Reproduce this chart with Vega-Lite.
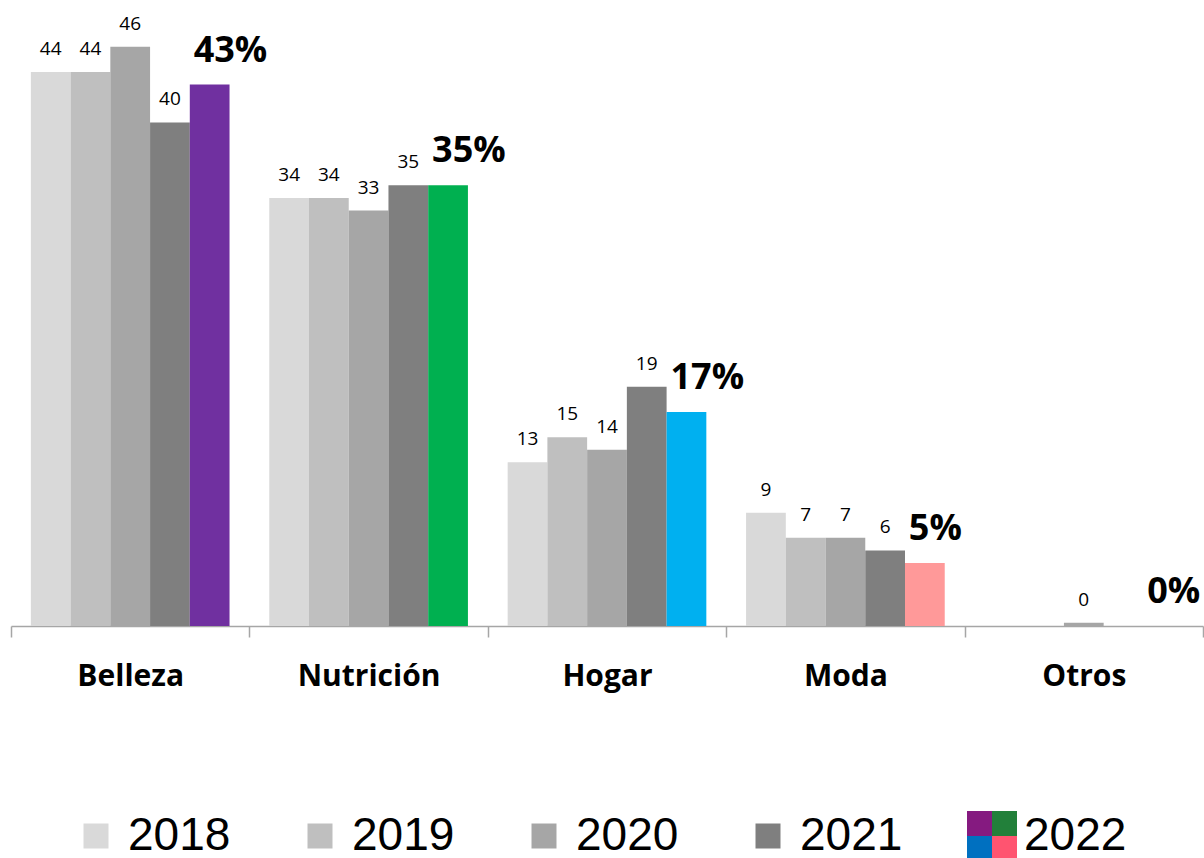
{
  "$schema": "https://vega.github.io/schema/vega-lite/v6.json",
  "padding": {"left": 10, "top": 0, "right": 0, "bottom": 0},
  "background": "white",
  "spacing": 120,
  "config": {"view": {"stroke": null}, "font": "Open Sans"},
  "resolve": {"scale": {"x": "independent", "y": "independent", "color": "independent", "xOffset": "independent", "yOffset": "independent"}},
  "datasets": {
    "ventas": [
      {"cat": "Belleza", "year": "2018", "value": 44, "series": "2018", "label": "44"},
      {"cat": "Belleza", "year": "2019", "value": 44, "series": "2019", "label": "44"},
      {"cat": "Belleza", "year": "2020", "value": 46, "series": "2020", "label": "46"},
      {"cat": "Belleza", "year": "2021", "value": 40, "series": "2021", "label": "40"},
      {"cat": "Belleza", "year": "2022", "value": 43, "series": "Belleza 2022", "label": "43%"},
      {"cat": "Nutrición", "year": "2018", "value": 34, "series": "2018", "label": "34"},
      {"cat": "Nutrición", "year": "2019", "value": 34, "series": "2019", "label": "34"},
      {"cat": "Nutrición", "year": "2020", "value": 33, "series": "2020", "label": "33"},
      {"cat": "Nutrición", "year": "2021", "value": 35, "series": "2021", "label": "35"},
      {"cat": "Nutrición", "year": "2022", "value": 35, "series": "Nutrición 2022", "label": "35%"},
      {"cat": "Hogar", "year": "2018", "value": 13, "series": "2018", "label": "13"},
      {"cat": "Hogar", "year": "2019", "value": 15, "series": "2019", "label": "15"},
      {"cat": "Hogar", "year": "2020", "value": 14, "series": "2020", "label": "14"},
      {"cat": "Hogar", "year": "2021", "value": 19, "series": "2021", "label": "19"},
      {"cat": "Hogar", "year": "2022", "value": 17, "series": "Hogar 2022", "label": "17%"},
      {"cat": "Moda", "year": "2018", "value": 9, "series": "2018", "label": "9"},
      {"cat": "Moda", "year": "2019", "value": 7, "series": "2019", "label": "7"},
      {"cat": "Moda", "year": "2020", "value": 7, "series": "2020", "label": "7"},
      {"cat": "Moda", "year": "2021", "value": 6, "series": "2021", "label": "6"},
      {"cat": "Moda", "year": "2022", "value": 5, "series": "Moda 2022", "label": "5%"},
      {"cat": "Otros", "year": "2020", "value": 0.25, "series": "2020", "label": "0"},
      {"cat": "Otros", "year": "2022", "value": 0, "series": "Otros 2022", "label": "0%"}
    ],
    "leyenda": [
      {"year": "2018"}, {"year": "2019"}, {"year": "2020"}, {"year": "2021"}, {"year": "2022"}
    ],
    "muestras": [
      {"year": "2018", "qx": "C", "qy": "C", "swatch": "2018"},
      {"year": "2019", "qx": "C", "qy": "C", "swatch": "2019"},
      {"year": "2020", "qx": "C", "qy": "C", "swatch": "2020"},
      {"year": "2021", "qx": "C", "qy": "C", "swatch": "2021"},
      {"year": "2022", "qx": "L", "qy": "T", "swatch": "2022 morado"},
      {"year": "2022", "qx": "R", "qy": "T", "swatch": "2022 verde"},
      {"year": "2022", "qx": "L", "qy": "B", "swatch": "2022 azul"},
      {"year": "2022", "qx": "R", "qy": "B", "swatch": "2022 rosa"}
    ]
  },
  "vconcat": [
    {
      "width": 1192,
      "height": 626,
      "data": {"name": "ventas"},
      "encoding": {
        "x": {
          "field": "cat", "type": "nominal",
          "sort": ["Belleza", "Nutrición", "Hogar", "Moda", "Otros"],
          "scale": {"paddingInner": 0, "paddingOuter": 0},
          "axis": {
            "title": null, "labelAngle": 0, "labelFont": "Open Sans", "labelFontWeight": "bold",
            "labelFontSize": 30, "labelColor": "#000000", "labelPadding": 24,
            "domainColor": "#A6A6A6", "domainWidth": 1.5, "tickColor": "#A6A6A6", "tickWidth": 1.5,
            "tickSize": 11, "tickBand": "extent", "grid": false
          }
        },
        "xOffset": {"field": "year", "type": "nominal", "scale": {"paddingInner": 0, "paddingOuter": 0.5}},
        "y": {"field": "value", "type": "quantitative", "scale": {"domain": [0, 49.72], "nice": false, "zero": true}, "axis": null}
      },
      "layer": [
        {
          "mark": {"type": "bar"},
          "encoding": {
            "color": {
              "field": "series", "type": "nominal", "legend": null,
              "scale": {
                "domain": ["2018", "2019", "2020", "2021", "Belleza 2022", "Nutrición 2022", "Hogar 2022", "Moda 2022", "Otros 2022"],
                "range": ["#D9D9D9", "#BFBFBF", "#A6A6A6", "#7F7F7F", "#7030A0", "#00B050", "#00B0F0", "#FF9999", "#FFFFFF"]
              }
            }
          }
        },
        {
          "transform": [{"filter": "datum.year != '2022'"}],
          "mark": {"type": "text", "baseline": "alphabetic", "dy": -17, "fontSize": 19, "color": "#000000", "font": "Open Sans"},
          "encoding": {"text": {"field": "label", "type": "nominal"}}
        },
        {
          "transform": [{"filter": "datum.year == '2022'"}],
          "mark": {"type": "text", "align": "left", "baseline": "alphabetic", "dx": -16, "dy": -23, "fontSize": 36, "fontWeight": "bold", "color": "#000000", "font": "Open Sans"},
          "encoding": {"text": {"field": "label", "type": "nominal"}}
        }
      ]
    },
    {
      "width": 1120,
      "height": 50,
      "layer": [
        {
          "data": {"name": "muestras"},
          "mark": {"type": "point", "shape": "square", "filled": true, "size": 625, "opacity": 1, "strokeWidth": 0},
          "encoding": {
            "x": {"field": "year", "type": "nominal", "bandPosition": 0, "axis": null, "scale": {"paddingInner": 0, "paddingOuter": 0}},
            "xOffset": {"field": "qx", "type": "nominal", "scale": {"type": "point", "domain": ["L", "C", "R"], "range": [72.5, 97.5], "padding": 0}},
            "y": {"datum": "l", "type": "nominal", "axis": null, "scale": {"paddingInner": 0, "paddingOuter": 0}},
            "yOffset": {"field": "qy", "type": "nominal", "scale": {"type": "point", "domain": ["T", "C", "B"], "range": [12.5, 37.5], "padding": 0}},
            "color": {
              "field": "swatch", "type": "nominal", "legend": null,
              "scale": {
                "domain": ["2018", "2019", "2020", "2021", "2022 morado", "2022 verde", "2022 azul", "2022 rosa"],
                "range": ["#D9D9D9", "#BFBFBF", "#A6A6A6", "#7F7F7F", "#851A80", "#22803A", "#0070C0", "#FF5470"]
              }
            }
          }
        },
        {
          "data": {"name": "leyenda"},
          "mark": {"type": "text", "align": "left", "baseline": "middle", "dx": 117, "font": "Liberation Sans", "fontSize": 46, "color": "#000000"},
          "encoding": {
            "x": {"field": "year", "type": "nominal", "bandPosition": 0, "axis": null},
            "y": {"datum": "l", "type": "nominal", "axis": null},
            "text": {"field": "year", "type": "nominal"}
          }
        }
      ]
    }
  ]
}
